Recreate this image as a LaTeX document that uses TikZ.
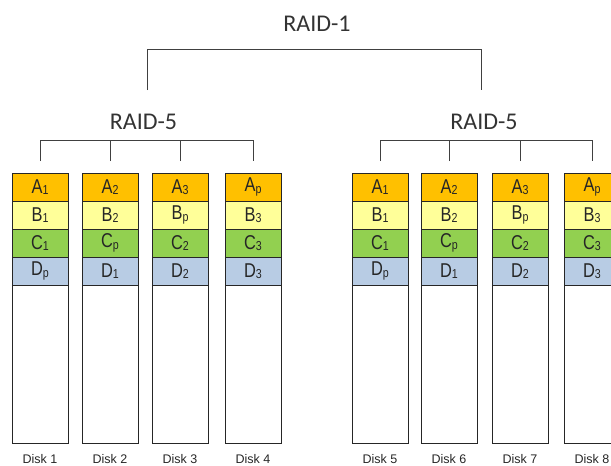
\documentclass[tikz,border=0pt]{standalone}
\usepackage{fontspec}
\setmainfont{Liberation Sans}
\newfontfamily\raidfont{Carlito}
\usepackage{graphicx}
\usetikzlibrary{positioning}

\definecolor{stripeA}{HTML}{FFC000}
\definecolor{stripeB}{HTML}{FFFF99}
\definecolor{stripeC}{HTML}{92D050}
\definecolor{stripeD}{HTML}{B8CCE4}

\tikzset{
  cell/.style={draw=black!85, line width=0.9pt, outer sep=0pt, inner sep=0pt,
    minimum width=56pt, minimum height=28pt, anchor=north west,
    text=black!85, font=\fontsize{20}{20}\selectfont},
  diskbody/.style={cell, minimum height=158pt, fill=white},
  disklabel/.style={text=black!85, inner sep=1pt, font=\fontsize{12.5}{12.5}\selectfont},
  raidlabel/.style={text=black!80, font=\raidfont\fontsize{24}{24}\selectfont},
  bracket/.style={draw=black!75, line width=0.9pt},
}
\newcommand\stripe[2]{\scalebox{0.82}[1]{#1\raisebox{-1.5pt}{\fontsize{13}{13}\selectfont #2}}}

\begin{document}
\begin{tikzpicture}[x=1pt,y=-1pt]
\useasboundingbox (0,0) rectangle (611,466);

% disks with their stripes
\foreach \n/\x/\sa/\sb/\sc/\sd in {1/12/1/1/1/p, 2/82/2/2/p/1, 3/152/3/p/2/2, 4/225/p/3/3/3,
    5/352/1/1/1/p, 6/421/2/2/p/1, 7/492/3/p/2/2, 8/564/p/3/3/3}{
  \node[cell, fill=stripeA] (d\n-a) at (\x,173) {\stripe{A}{\sa}};
  \node[cell, fill=stripeB, below=0pt of d\n-a] (d\n-b) {\stripe{B}{\sb}};
  \node[cell, fill=stripeC, below=0pt of d\n-b] (d\n-c) {\stripe{C}{\sc}};
  \node[cell, fill=stripeD, below=0pt of d\n-c] (d\n-d) {\stripe{D}{\sd}};
  \node[diskbody, below=0pt of d\n-d] (d\n-body) {};
  \node[disklabel, yshift=-16pt] (d\n-lab) at (d\n-body.south) {Disk \n};
}

% labels
\node[raidlabel] (raid1) at (317,24) {RAID-1};
\node[raidlabel] (raid5l) at (143.5,122) {RAID-5};
\node[raidlabel] (raid5r) at (484,122) {RAID-5};

% RAID-5 brackets
\draw[bracket] ([yshift=12pt]d1-a.north) |- ([yshift=33pt]d4-a.north) -- ([yshift=12pt]d4-a.north);
\draw[bracket] ([yshift=12pt]d2-a.north) -- ([yshift=33pt]d2-a.north);
\draw[bracket] ([yshift=12pt]d3-a.north) -- ([yshift=33pt]d3-a.north);

\draw[bracket] ([yshift=12pt]d5-a.north) |- ([yshift=33pt]d8-a.north) -- ([yshift=12pt]d8-a.north);
\draw[bracket] ([yshift=12pt]d6-a.north) -- ([yshift=33pt]d6-a.north);
\draw[bracket] ([yshift=12pt]d7-a.north) -- ([yshift=33pt]d7-a.north);

% RAID-1 bracket
\draw[bracket] ([xshift=4pt,yshift=32pt]raid5l.center) |- ([xshift=-3pt,yshift=73pt]raid5r.center)
  -- ([xshift=-3pt,yshift=32pt]raid5r.center);
\end{tikzpicture}
\end{document}
